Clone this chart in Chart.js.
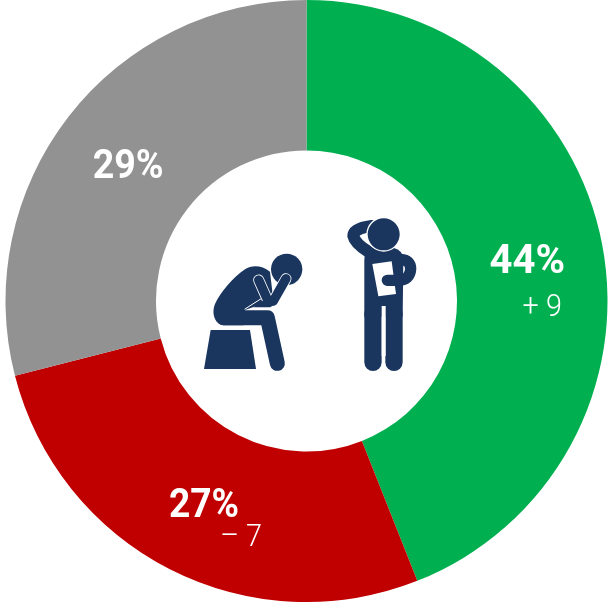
<!DOCTYPE html>
<html>
<head>
<meta charset="utf-8">
<style>
  html, body { margin: 0; padding: 0; background: #fff; }
  canvas { display: block; }
</style>
<script src="https://cdn.jsdelivr.net/npm/chart.js@4/dist/chart.umd.min.js"></script>
</head>
<body>
<canvas id="myChart" width="608" height="602"></canvas>
<script>
const categories = ['Up', 'Down', 'Same'];
const shares = [44, 27, 29];
const shareLabels = ['44%', '27%', '29%'];
const changeLabels = ['+ 9', '– 7', ''];
const sliceColors = ['#00B050', '#C00000', '#929292'];

// text spots relative to the centre of each arc
const shareOffsets = [[-1, 4], [0, 5], [0, 5]];
const changeOffsets = [[14, 49], [37, 36], [0, 0]];
const shareSqueeze = [1, 0.93, 0.94];

const NAVY = '#1A365F';

function limb(ctx, d, width) {
    ctx.lineWidth = width;
    ctx.stroke(new Path2D(d));
}

function drawPeople(ctx) {
    ctx.save();
    ctx.translate(190, 200);
    ctx.scale(1 / 3, 1 / 3);
    ctx.lineCap = 'round';
    ctx.lineJoin = 'round';
    ctx.fillStyle = NAVY;
    ctx.strokeStyle = NAVY;

    // sitting man
    ctx.fill(new Path2D('M62 390 L180 390 L198 507 L42 507 Z'));
    ctx.beginPath();
    ctx.arc(290, 208, 47, 0, Math.PI * 2);
    ctx.fill();
    ctx.fill(new Path2D('M105 376 C78 376 62 345 75 312 C92 275 130 232 165 208 C185 195 215 195 240 215 L250 300 L165 330 L160 376 Z'));
    limb(ctx, 'M100 353 L232 353 L262 490', 45);
    ctx.strokeStyle = '#fff';
    limb(ctx, 'M206 240 L235 305', 33);
    limb(ctx, 'M288 236 L250 303', 33);
    limb(ctx, 'M165 327 L212 297', 3);
    ctx.strokeStyle = NAVY;
    limb(ctx, 'M206 240 L235 305', 28);
    limb(ctx, 'M288 236 L250 303', 28);
    ctx.fill(new Path2D('M222 300 L262 310 L240 322 L190 322 Z'));

    // standing man
    ctx.strokeStyle = NAVY;
    ctx.fill(new Path2D('M523 180 Q523 145 560 143 L610 143 Q640 150 640 180 L638 350 L523 350 Z'));
    limb(ctx, 'M549 340 L549 487', 52);
    limb(ctx, 'M612 340 L612 487', 52);
    ctx.fillStyle = '#fff';
    ctx.fillRect(575, 318, 12, 150);
    limb(ctx, 'M545 78 Q490 85 490 108 Q495 130 535 155', 36);
    ctx.beginPath();
    ctx.arc(581, 103, 52, 0, Math.PI * 2);
    ctx.fill();
    ctx.fillStyle = NAVY;
    ctx.beginPath();
    ctx.arc(581, 103, 48, 0, Math.PI * 2);
    ctx.fill();
    ctx.fillStyle = '#fff';
    ctx.fill(new Path2D('M547 192 L605 184 L618 282 L565 289 Z'));
    ctx.fillStyle = NAVY;
    limb(ctx, 'M632 178 Q662 180 662 207 Q660 240 625 241 L592 241', 34);
    ctx.restore();
}

function squeezedText(ctx, text, x, y, squeeze) {
    ctx.save();
    ctx.translate(x, y);
    ctx.scale(squeeze, 1);
    ctx.fillText(text, 0, 0);
    ctx.restore();
}

const centerArt = {
    id: 'centerArt',
    afterDatasetsDraw(chart) {
        const ctx = chart.ctx;
        const arcs = chart.getDatasetMeta(0).data;
        drawPeople(ctx);
        ctx.save();
        ctx.fillStyle = '#fff';
        ctx.textAlign = 'center';
        ctx.textBaseline = 'middle';
        arcs.forEach((arc, i) => {
            const pos = arc.getCenterPoint();
            ctx.font = '700 40px Roboto, sans-serif';
            squeezedText(ctx, shareLabels[i], pos.x + shareOffsets[i][0], pos.y + shareOffsets[i][1], shareSqueeze[i]);
            if (changeLabels[i]) {
                ctx.font = '300 32px Roboto, sans-serif';
                squeezedText(ctx, changeLabels[i], pos.x + changeOffsets[i][0], pos.y + changeOffsets[i][1], 0.9);
            }
        });
        ctx.restore();
    }
};

new Chart(document.getElementById('myChart'), {
    type: 'doughnut',
    data: {
        labels: categories,
        datasets: [{
            data: shares,
            backgroundColor: sliceColors,
            borderWidth: 0
        }]
    },
    options: {
        responsive: false,
        animation: false,
        cutout: '50%',
        layout: { padding: { left: 5 } },
        plugins: {
            legend: { display: false },
            tooltip: { enabled: false }
        }
    },
    plugins: [centerArt]
});
</script>
</body>
</html>
